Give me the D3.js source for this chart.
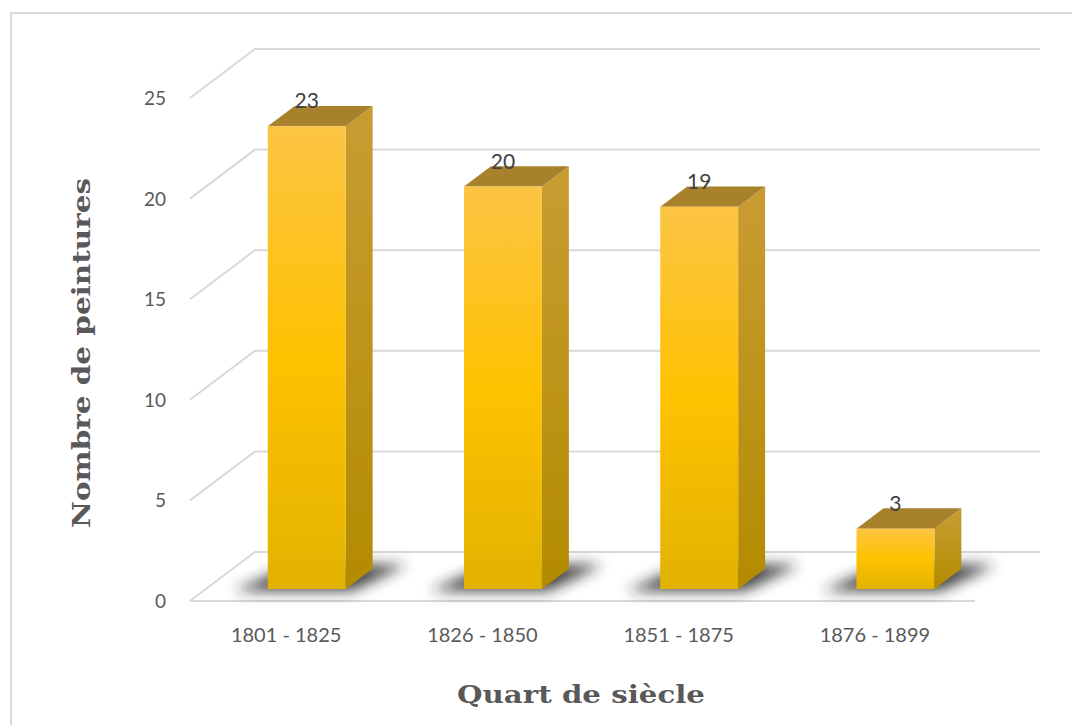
<!DOCTYPE html>
<html>
<head>
<meta charset="utf-8">
<script src="https://cdn.jsdelivr.net/npm/d3@7"></script>
<style>
  body { margin: 0; background: #fff; }
  svg { display: block; }
</style>
</head>
<body>
<div id="chart"></div>
<script>
// data
const categories = ['1801 - 1825', '1826 - 1850', '1851 - 1875', '1876 - 1899'];
const values = [23, 20, 19, 3];
const yTicks = [0, 5, 10, 15, 20, 25];
const xTitle = 'Quart de siècle';
const yTitle = 'Nombre de peintures';

const width = 1072, height = 725;
const depthX = 65, depthY = -49;   // floor depth offset
const barD0 = 0.245, barD1 = 0.66; // bar position in depth

const svg = d3.select('#chart').append('svg')
    .attr('width', width)
    .attr('height', height);

const defs = svg.append('defs');

let gFront = defs.append('linearGradient').attr('id', 'gFront')
    .attr('x1', 0).attr('y1', 0).attr('x2', 0).attr('y2', 1);
gFront.append('stop').attr('offset', '0%').attr('stop-color', '#fcc444');
gFront.append('stop').attr('offset', '50%').attr('stop-color', '#fec200');
gFront.append('stop').attr('offset', '100%').attr('stop-color', '#e2b200');

let gSide = defs.append('linearGradient').attr('id', 'gSide')
    .attr('x1', 0).attr('y1', 0).attr('x2', 0).attr('y2', 1);
gSide.append('stop').attr('offset', '0%').attr('stop-color', '#c99c33');
gSide.append('stop').attr('offset', '100%').attr('stop-color', '#b38b00');

defs.append('filter').attr('id', 'blur')
    .attr('x', '-50%').attr('y', '-100%').attr('width', '200%').attr('height', '300%')
    .append('feGaussianBlur').attr('stdDeviation', 7);

// outer border
svg.append('path')
    .attr('d', `M11,${height} L11,13 L${width},13`)
    .attr('fill', 'none')
    .attr('stroke', '#d9d9d9')
    .attr('stroke-width', 2);

// scales (front plane of the floor)
const x = d3.scaleBand().domain(categories).range([190, 975]);
const y = d3.scaleLinear().domain([0, 25]).range([601, 98]);

const proj = (px, v, d) => [px + d * depthX, y(v) + d * depthY];
const pts = arr => arr.map(p => p.join(',')).join(' ');

// gridlines
const grid = svg.append('g');
yTicks.forEach(t => {
    let a = proj(190, t, 0), b = proj(190, t, 1), c = proj(975, t, 1);
    grid.append('polyline')
        .attr('points', pts([a, b, c]))
        .attr('fill', 'none')
        .attr('stroke', '#d9d9d9')
        .attr('stroke-width', 2);
});
// floor front edge
grid.append('line')
    .attr('x1', 190).attr('y1', y(0))
    .attr('x2', 975).attr('y2', y(0))
    .attr('stroke', '#d9d9d9')
    .attr('stroke-width', 2);

// tick labels
svg.append('g').selectAll('text')
    .data(yTicks)
    .join('text')
    .attr('x', 166)
    .attr('y', d => y(d) + 7)
    .attr('text-anchor', 'end')
    .attr('font-family', 'Lato, "Open Sans", sans-serif')
    .attr('font-size', 19)
    .attr('fill', '#595959')
    .text(d => d);

// bars
const bw = x.bandwidth();
const bars = svg.append('g');
categories.forEach((c, i) => {
    let v = values[i];
    let x0 = x(c) + bw * 0.315, x1 = x0 + bw * 0.397;
    let f0 = proj(x0, 0, barD0), f1 = proj(x1, 0, barD0);
    let b0 = proj(x0, 0, barD1), b1 = proj(x1, 0, barD1);
    let ft0 = proj(x0, v, barD0), ft1 = proj(x1, v, barD0);
    let bt0 = proj(x0, v, barD1), bt1 = proj(x1, v, barD1);

    // shadow
    bars.append('polygon')
        .attr('points', pts([[f0[0] - 34, f0[1] + 2], [f1[0] + 6, f1[1] + 2], [b1[0] + 34, b1[1] - 4], [b0[0], b0[1] - 4]]))
        .attr('fill', '#222')
        .attr('opacity', 0.85)
        .attr('filter', 'url(#blur)');

    // side
    bars.append('polygon')
        .attr('points', pts([f1, b1, bt1, ft1]))
        .attr('fill', 'url(#gSide)');
    // top
    bars.append('polygon')
        .attr('points', pts([ft0, ft1, bt1, bt0]))
        .attr('fill', '#a8812c');
    // front
    bars.append('rect')
        .attr('x', ft0[0])
        .attr('y', ft0[1])
        .attr('width', x1 - x0)
        .attr('height', f0[1] - ft0[1])
        .attr('fill', 'url(#gFront)');

    bars.append('text')
        .attr('x', (ft0[0] + ft1[0]) / 2)
        .attr('y', ft0[1] - 18)
        .attr('text-anchor', 'middle')
        .attr('font-family', 'Lato, "Open Sans", sans-serif')
        .attr('font-size', 21)
        .attr('fill', '#404040')
        .text(v);
});

// category labels
svg.append('g').selectAll('text')
    .data(categories)
    .join('text')
    .attr('x', d => x(d) + bw / 2 - 2)
    .attr('y', 642)
    .attr('text-anchor', 'middle')
    .attr('font-family', 'Lato, "Open Sans", sans-serif')
    .attr('font-size', 20)
    .attr('fill', '#595959')
    .text(d => d);

// axis titles
svg.append('text')
    .attr('x', 581)
    .attr('y', 703)
    .attr('text-anchor', 'middle')
    .attr('font-family', '"DejaVu Serif", serif')
    .attr('font-weight', 'bold')
    .attr('font-size', 25)
    .attr('textLength', 248)
    .attr('lengthAdjust', 'spacingAndGlyphs')
    .attr('fill', '#595959')
    .text(xTitle);

svg.append('text')
    .attr('transform', 'translate(90,353) rotate(-90)')
    .attr('text-anchor', 'middle')
    .attr('font-family', '"DejaVu Serif", serif')
    .attr('font-weight', 'bold')
    .attr('font-size', 25)
    .attr('textLength', 350)
    .attr('lengthAdjust', 'spacingAndGlyphs')
    .attr('fill', '#595959')
    .text(yTitle);
</script>
</body>
</html>
